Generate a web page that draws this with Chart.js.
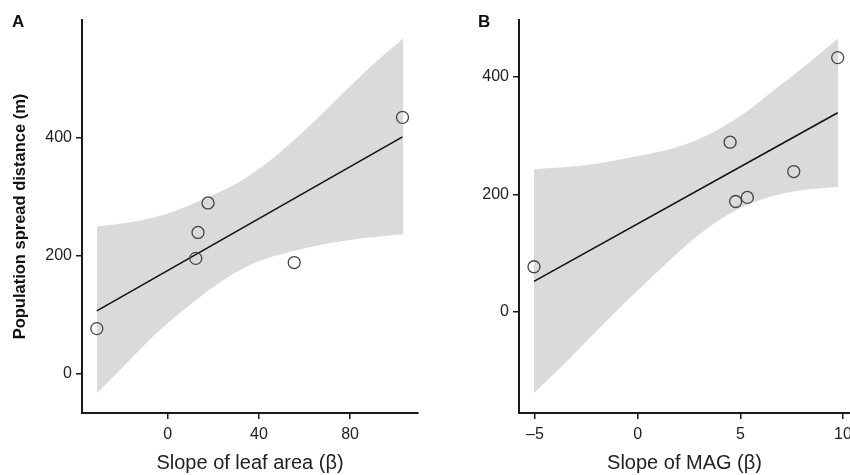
<!DOCTYPE html>
<html>
<head>
<meta charset="utf-8">
<script src="https://cdn.jsdelivr.net/npm/chart.js@4.4.1/dist/chart.umd.min.js"></script>
<style>
  html, body { margin: 0; padding: 0; background: #fff; }
  .panel { position: absolute; top: 0; width: 425px; height: 475px; }
</style>
</head>
<body>
<div class="panel" style="left:0"><canvas id="chartA" width="425" height="475"></canvas></div>
<div class="panel" style="left:425px"><canvas id="chartB" width="425" height="475"></canvas></div>
<script>
// Panel A: slope of leaf area vs spread distance
const leafX = [-31.1, 12.3, 13.3, 17.7, 55.5, 103];
const leafY = [77, 196, 240, 290, 189, 435];
const leafFitX = [-31.1, 103];
const leafFitY = [107, 402];
const leafUpperX = [-31.1, -12.3, 2.3, 17.7, 31.6, 46.3, 61, 75.6, 90.2, 103.4];
const leafUpperY = [250, 260, 275, 300, 326, 366, 416, 471, 525, 569];
const leafLowerX = [-31.1, -19.6, -5, 9.7, 24.3, 39, 53.6, 68.3, 83, 103.4];
const leafLowerY = [-33, 12, 69, 117, 159, 190, 207, 220, 229, 237];

// Panel B: slope of MAG vs spread distance
const magX = [-5.05, 4.5, 4.77, 5.34, 7.6, 9.74];
const magY = [77, 289, 188, 195, 239, 433];
const magFitX = [-5.05, 9.74];
const magFitY = [52, 339];
const magUpperX = [-5.08, -2.48, -0.5, 1.94, 3.56, 5.18, 6.8, 8.4, 9.77];
const magUpperY = [243, 250, 262, 281, 304, 338, 382, 426, 466];
const magLowerX = [-5.05, -3.7, -2.1, -0.5, 1.13, 2.75, 4.37, 5.99, 7.6, 9.77];
const magLowerY = [-138, -93, -36, 20, 74, 125, 165, 191, 205, 213];

const yTicks = [0, 200, 400];
const leafTicks = [0, 40, 80];
const magTicks = [-5, 0, 5, 10];

const FONT = "'Liberation Sans', Arial, sans-serif";
const INK = '#222';

const pts = (xs, ys) => xs.map((x, i) => ({ x, y: ys[i] }));

// panel letter drawn on the canvas
const panelLabel = {
  id: 'panelLabel',
  afterDraw(chart, args, opts) {
    const ctx = chart.ctx;
    ctx.save();
    ctx.font = 'bold 17px ' + FONT;
    ctx.fillStyle = '#111';
    ctx.textBaseline = 'top';
    ctx.fillText(opts.text, opts.x, opts.y);
    ctx.restore();
  }
};

function makeChart(id, cfg) {
  const axisCommon = {
    type: 'linear',
    border: { display: true, color: '#1a1a1a', width: 2 },
    grid: { drawOnChartArea: false, drawTicks: true, tickLength: 6, color: '#1a1a1a', lineWidth: 1.5 },
    ticks: { font: { family: FONT, size: 16 }, color: INK, padding: 4 }
  };
  return new Chart(document.getElementById(id), {
    type: 'line',
    data: {
      datasets: [
        { data: pts(cfg.upX, cfg.upY), fill: '+1', backgroundColor: '#d9dadc', borderWidth: 0, pointRadius: 0,
          cubicInterpolationMode: 'monotone', order: 3 },
        { data: pts(cfg.loX, cfg.loY), fill: false, borderWidth: 0, pointRadius: 0,
          cubicInterpolationMode: 'monotone', order: 3 },
        { data: pts(cfg.fitX, cfg.fitY), fill: false, borderColor: '#111', borderWidth: 1.6, pointRadius: 0, order: 1 },
        { data: pts(cfg.px, cfg.py), showLine: false, pointRadius: 6, pointBorderWidth: 1.3,
          pointBorderColor: '#444', pointBackgroundColor: 'rgba(0,0,0,0)', order: 0 }
      ]
    },
    options: {
      responsive: false,
      animation: false,
      devicePixelRatio: 1,
      layout: { autoPadding: false, padding: { top: 20, right: cfg.padRight, left: cfg.padLeft, bottom: 0 } },
      plugins: {
        legend: { display: false },
        tooltip: { enabled: false },
        filler: { drawTime: 'beforeDatasetsDraw' },
        panelLabel: { text: cfg.letter, x: cfg.letterX, y: 14 }
      },
      scales: {
        x: Object.assign({}, axisCommon, {
          min: cfg.xMin, max: cfg.xMax,
          afterBuildTicks: s => { s.ticks = cfg.xTicks.map(v => ({ value: v })); },
          // the last label of B runs off the page edge, as in the original
          afterFit: s => { s.height = 62; s.paddingLeft = 0; s.paddingRight = 0; },
          ticks: Object.assign({}, axisCommon.ticks, { padding: 6, callback: v => (v < 0 ? '\u2013' + Math.abs(v) : String(v)) }),
          title: { display: true, text: cfg.xTitle, color: INK, font: { family: FONT, size: 20 }, padding: { top: 0, bottom: 0 } }
        }),
        y: Object.assign({}, axisCommon, {
          min: cfg.yMin, max: cfg.yMax,
          afterBuildTicks: s => { s.ticks = yTicks.map(v => ({ value: v })); },
          afterFit: s => { s.width = cfg.yWidth; },
          title: { display: !!cfg.yTitle, text: cfg.yTitle, color: '#111', font: { family: FONT, size: 16.5, weight: 'bold' }, padding: { top: 0, bottom: 0 } }
        })
      }
    },
    plugins: [panelLabel]
  });
}

makeChart('chartA', {
  px: leafX, py: leafY, fitX: leafFitX, fitY: leafFitY,
  upX: leafUpperX, upY: leafUpperY, loX: leafLowerX, loY: leafLowerY,
  xMin: -37.6, xMax: 109.8, yMin: -66, yMax: 600,
  xTicks: leafTicks, yWidth: 71, padLeft: 11, padRight: 7,
  xTitle: 'Slope of leaf area (\u03B2)', yTitle: 'Population spread distance (m)',
  letter: 'A', letterX: 12
});

makeChart('chartB', {
  px: magX, py: magY, fitX: magFitX, fitY: magFitY,
  upX: magUpperX, upY: magUpperY, loX: magLowerX, loY: magLowerY,
  xMin: -5.78, xMax: 10.34, yMin: -172, yMax: 497,
  xTicks: magTicks, yWidth: 94, padLeft: 0, padRight: 0,
  xTitle: 'Slope of MAG (\u03B2)', yTitle: '',
  letter: 'B', letterX: 53
});
</script>
</body>
</html>
